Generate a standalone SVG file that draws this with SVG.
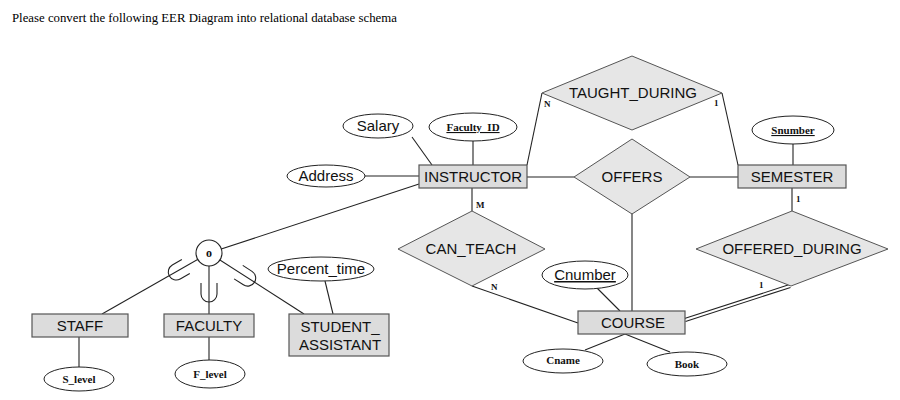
<svg xmlns="http://www.w3.org/2000/svg" width="900" height="400" viewBox="0 0 900 400">
<style>
.ent{fill:#dcdcdc;stroke:#555;stroke-width:1.2}
.rel{fill:#e6e6e6;stroke:#555;stroke-width:1}
.att{fill:#fff;stroke:#222;stroke-width:1}
.ln{stroke:#222;stroke-width:1.1;fill:none}
.sans{font-family:"Liberation Sans",Arial,sans-serif;font-size:15px;fill:#111;text-anchor:middle}
.bs{font-family:"Liberation Serif","Times New Roman",serif;font-weight:bold;font-size:11px;fill:#111;text-anchor:middle}
.card{font-family:"Liberation Serif","Times New Roman",serif;font-weight:bold;font-size:9px;fill:#111}
</style>
<rect width="900" height="400" fill="#fff"/>
<text x="12" y="22" style="font-family:'Liberation Serif','Times New Roman',serif;font-size:12.8px;fill:#000">Please convert the following EER Diagram into relational database schema</text>

<g id="connectors" class="ln">
<line x1="412" y1="137" x2="432" y2="165"/>
<line x1="473" y1="141" x2="473" y2="165"/>
<line x1="365" y1="176" x2="419" y2="176"/>
<line x1="419" y1="184" x2="209" y2="253"/>
<line x1="527" y1="165" x2="542" y2="93"/>
<line x1="722" y1="93" x2="738" y2="165"/>
<line x1="793" y1="144" x2="793" y2="165"/>
<line x1="527" y1="177" x2="574" y2="177"/>
<line x1="690" y1="177" x2="738" y2="177"/>
<line x1="632" y1="213" x2="632" y2="311"/>
<line x1="472" y1="188" x2="472" y2="211"/>
<line x1="472" y1="286" x2="578" y2="323"/>
<line x1="792" y1="188" x2="792" y2="211"/>
<line x1="790.5" y1="287.4" x2="685.5" y2="321.4"/>
<line x1="789.5" y1="284.6" x2="684.5" y2="318.6"/>
<line x1="597" y1="288" x2="620" y2="311"/>
<line x1="625" y1="334" x2="585" y2="350"/>
<line x1="625" y1="334" x2="670" y2="352"/>
<line x1="209" y1="253" x2="102" y2="314"/>
<line x1="209" y1="253" x2="209" y2="314"/>
<line x1="209" y1="253" x2="304" y2="314"/>
<line x1="325" y1="281" x2="333" y2="314"/>
<line x1="79" y1="337" x2="79" y2="367"/>
<line x1="209" y1="337" x2="209" y2="360"/>
<path d="M -8,-9 L -8,2 A 8 8 0 0 0 8,2 L 8,-9" transform="translate(209,292)"/>
<path d="M -8,-9 L -8,2 A 8 8 0 0 0 8,2 L 8,-9" transform="translate(178,271) rotate(60.3)"/>
<path d="M -8,-9 L -8,2 A 8 8 0 0 0 8,2 L 8,-9" transform="translate(246,277) rotate(-57.3)"/>
</g>

<g id="labels">
<text class="card" x="544" y="107">N</text>
<text class="card" x="714" y="106">1</text>
<text class="card" x="476" y="208">M</text>
<text class="card" x="796" y="202">1</text>
<text class="card" x="491" y="290">N</text>
<text class="card" x="759" y="288">1</text>
</g>

<g id="INSTRUCTOR"><rect class="ent" x="419" y="165" width="108" height="23"/><text class="sans" x="473" y="182">INSTRUCTOR</text></g>
<g id="SEMESTER"><rect class="ent" x="738" y="165" width="108" height="23"/><text class="sans" x="792" y="182">SEMESTER</text></g>
<g id="COURSE"><rect class="ent" x="578" y="311" width="107" height="23"/><text class="sans" x="633" y="328">COURSE</text></g>
<g id="STAFF"><rect class="ent" x="32" y="314" width="96" height="23"/><text class="sans" x="80" y="331">STAFF</text></g>
<g id="FACULTY"><rect class="ent" x="164" y="314" width="90" height="23"/><text class="sans" x="209" y="331">FACULTY</text></g>
<g id="STUDENT_ASSISTANT"><rect class="ent" x="289" y="314" width="100" height="42"/><text class="sans" x="340" y="332">STUDENT_</text><text class="sans" x="340" y="350">ASSISTANT</text></g>

<g id="TAUGHT_DURING"><polygon class="rel" points="542,93 632,56 722,93 632,130"/><text class="sans" x="633" y="98">TAUGHT_DURING</text></g>
<g id="OFFERS"><polygon class="rel" points="574,177 632,139 690,177 632,214"/><text class="sans" x="632" y="182">OFFERS</text></g>
<g id="CAN_TEACH"><polygon class="rel" points="398,249 472,211 545,249 472,286"/><text class="sans" x="471" y="254">CAN_TEACH</text></g>
<g id="OFFERED_DURING"><polygon class="rel" points="696,249 792,211 888,249 791,286"/><text class="sans" x="792" y="254">OFFERED_DURING</text></g>

<g id="disjoint"><circle cx="209" cy="253" r="13" fill="#fff" stroke="#222" stroke-width="1.1"/><text class="bs" x="209" y="257" style="font-size:12px">o</text></g>

<g id="Salary"><ellipse class="att" cx="378" cy="126" rx="35" ry="12"/><text class="sans" x="378" y="131">Salary</text></g>
<g id="Faculty_ID"><ellipse class="att" cx="473" cy="127" rx="44" ry="14"/><text class="bs" x="473" y="131" text-decoration="underline">Faculty_ID</text></g>
<g id="Address"><ellipse class="att" cx="326" cy="176" rx="39" ry="11"/><text class="sans" x="326" y="181">Address</text></g>
<g id="Snumber"><ellipse class="att" cx="793" cy="130" rx="41" ry="14"/><text class="bs" x="793" y="134" text-decoration="underline">Snumber</text></g>
<g id="Cnumber"><ellipse class="att" cx="585" cy="275" rx="43" ry="14"/><text class="sans" x="585" y="280" text-decoration="underline">Cnumber</text></g>
<g id="Cname"><ellipse class="att" cx="563" cy="361" rx="40" ry="12"/><text class="bs" x="563" y="364">Cname</text></g>
<g id="Book"><ellipse class="att" cx="687" cy="364" rx="40" ry="12"/><text class="bs" x="687" y="368">Book</text></g>
<g id="Percent_time"><ellipse class="att" cx="321" cy="269" rx="53" ry="12"/><text class="sans" x="321" y="274">Percent_time</text></g>
<g id="S_level"><ellipse class="att" cx="79" cy="379" rx="35" ry="12"/><text class="bs" x="79" y="383">S_level</text></g>
<g id="F_level"><ellipse class="att" cx="210" cy="374" rx="35" ry="14"/><text class="bs" x="210" y="378">F_level</text></g>
</svg>
